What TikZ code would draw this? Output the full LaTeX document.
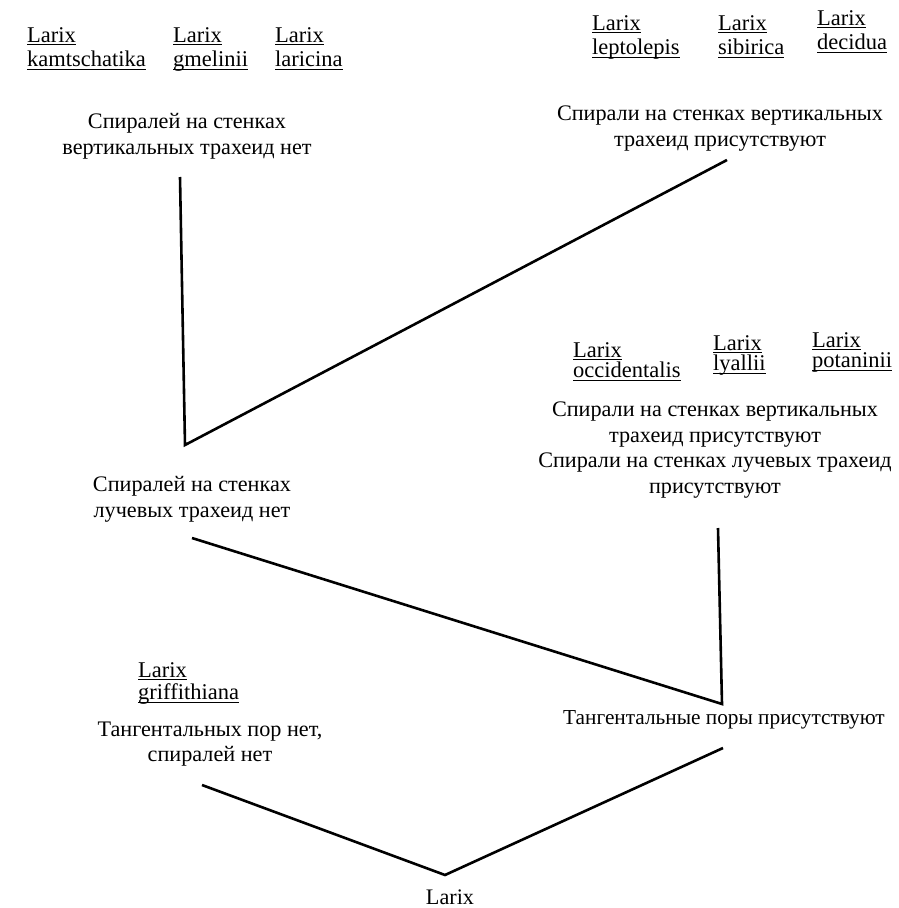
\documentclass[tikz,border=0pt]{standalone}
\usepackage{fontspec}
\setmainfont{Liberation Serif}
\newcommand\ulx[1]{\setbox0\hbox{#1}\rlap{\rule[-3pt]{\wd0}{0.9pt}}\box0}
\begin{document}
\begin{tikzpicture}[x=1pt,y=-1pt,
  lab/.style={font=\fontsize{22.2}{25.5}\selectfont, align=center, inner sep=0pt},
  sp/.style={font=\fontsize{22.5}{24.5}\selectfont, align=left, inner sep=0pt, anchor=north west},
  sptight/.style={sp, font=\fontsize{22.5}{20.5}\selectfont},
  branch/.style={line width=2.6pt}]
\useasboundingbox (0,0) rectangle (899,908);
% species
\node[sp] (kam) at (27,27) {\ulx{Larix}\\\ulx{kamtschatika}};
\node[sp] (gme) at (173,27) {\ulx{Larix}\\\ulx{gmelinii}};
\node[sp] (lar) at (275,27) {\ulx{Larix}\\\ulx{laricina}};
\node[sp] (lep) at (592,15) {\ulx{Larix}\\\ulx{leptolepis}};
\node[sp] (sib) at (718,15) {\ulx{Larix}\\\ulx{sibirica}};
\node[sp] (dec) at (817,10) {\ulx{Larix}\\\ulx{decidua}};
\node[sptight] (occ) at (573,342) {\ulx{Larix}\\\ulx{occidentalis}};
\node[sptight] (lya) at (713,335) {\ulx{Larix}\\\ulx{lyallii}};
\node[sptight] (pot) at (812,332) {\ulx{Larix}\\\ulx{potaninii}};
\node[sp, font=\fontsize{22.5}{22.5}\selectfont] (gri) at (138,662) {\ulx{Larix}\\\ulx{griffithiana}};
% character labels
\node[lab] (vno) at (187,136.5) {Спиралей на стенках\\вертикальных трахеид нет};
\node[lab] (vyes) at (720,128.5) {Спирали на стенках вертикальных\\трахеид присутствуют};
\node[lab] (rno) at (192,499.5) {Спиралей на стенках\\лучевых трахеид нет};
\node[lab] (ryes) at (715,450) {Спирали на стенках вертикальных\\трахеид присутствуют\\Спирали на стенках лучевых трахеид\\присутствуют};
\node[lab] (tno) at (210,744) {Тангентальных пор нет,\\спиралей нет};
\node[lab, font=\fontsize{21.3}{25}\selectfont] (tyes) at (724,720) {Тангентальные поры присутствуют};
\node[lab] (root) at (450,897) {Larix};
% branch points
\coordinate (a1) at (180,177);
\coordinate (j1) at (185,445);
\coordinate (a2) at (727,160);
\coordinate (b1) at (192,538);
\coordinate (j2) at (722,704);
\coordinate (b2) at (718,528);
\coordinate (c1) at (202,785);
\coordinate (j3) at (445,875);
\coordinate (c2) at (723,748);
\draw[branch] (a1) -- (j1) -- (a2);
\draw[branch] (b1) -- (j2) -- (b2);
\draw[branch] (c1) -- (j3) -- (c2);
\end{tikzpicture}
\end{document}
